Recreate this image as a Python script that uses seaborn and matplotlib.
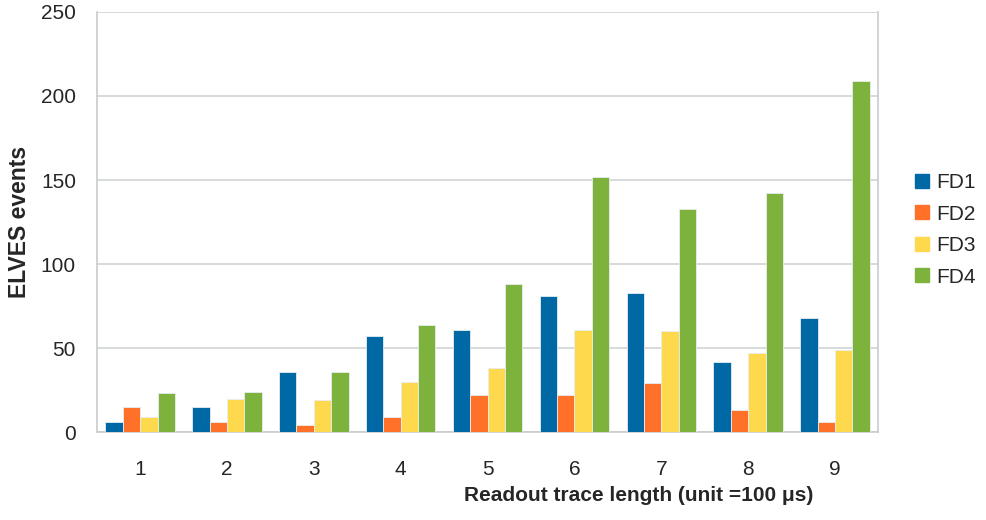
import pandas as pd
import matplotlib
matplotlib.use("Agg")
import matplotlib.pyplot as plt
import seaborn as sns
from matplotlib.lines import Line2D

# data
lengths = ["1", "2", "3", "4", "5", "6", "7", "8", "9"]
fd1 = [6, 15, 36, 57, 61, 81, 83, 42, 68]
fd2 = [15, 6, 4, 9, 22, 22, 29, 13, 6]
fd3 = [9, 20, 19, 30, 38, 61, 60, 47, 49]
fd4 = [23, 24, 36, 64, 88, 152, 133, 142, 209]
detectors = ["FD1", "FD2", "FD3", "FD4"]
colors = ["#0069a5", "#ff7029", "#ffd94d", "#7db33c"]

rows = []
for name, vals in zip(detectors, [fd1, fd2, fd3, fd4]):
    for l, v in zip(lengths, vals):
        rows.append({"length": l, "detector": name, "events": v})
df = pd.DataFrame(rows)

sns.set_style("white")
plt.rcParams["font.family"] = ["Liberation Sans", "DejaVu Sans"]

fig = plt.figure(figsize=(9.87, 5.2), dpi=100)
ax = fig.add_axes([0.098, 0.169, 0.792, 0.808])

sns.barplot(data=df, x="length", y="events", hue="detector", palette=colors,
            saturation=1, width=0.8, edgecolor="#e8eef0", linewidth=0.6,
            legend=False, ax=ax, zorder=3)

ax.set_ylim(0, 250)
ax.set_xlim(-0.5, 8.5)
ax.set_yticks(range(0, 251, 50))
ax.yaxis.grid(True, color="#d0d4d4", linewidth=1.2, zorder=0)
ax.set_axisbelow(True)

# tick marks between groups, labels in the middle
ax.set_xticks([i + 0.5 for i in range(-1, 9)], minor=True)
ax.tick_params(axis="x", which="major", length=0, labelsize=15, pad=20)
ax.tick_params(axis="x", which="minor", length=8, color="#c8cccc", width=1.2, direction="out")
ax.tick_params(axis="y", length=7, color="#c8cccc", width=1.2, direction="out", labelsize=15, pad=8)

for s in ax.spines.values():
    s.set_color("#c8cccc")
    s.set_linewidth(1.2)
ax.spines["top"].set_visible(False)

ax.set_xlabel("")
ax.set_ylabel("ELVES events", fontsize=16.5, fontweight="bold", labelpad=7)
fig.text(0.647, 0.048, "Readout trace length (unit =100 μs)", fontsize=15,
         fontweight="bold", ha="center", va="center")

handles = [Line2D([], [], marker="s", linestyle="", markersize=10, color=c) for c in colors]
fig.legend(handles, detectors, loc="center left", bbox_to_anchor=(0.926, 0.558),
           frameon=False, fontsize=15, handletextpad=0.25, labelspacing=0.6,
           handlelength=0.8, borderaxespad=0, borderpad=0)

fig.savefig("out.png", dpi=100)
